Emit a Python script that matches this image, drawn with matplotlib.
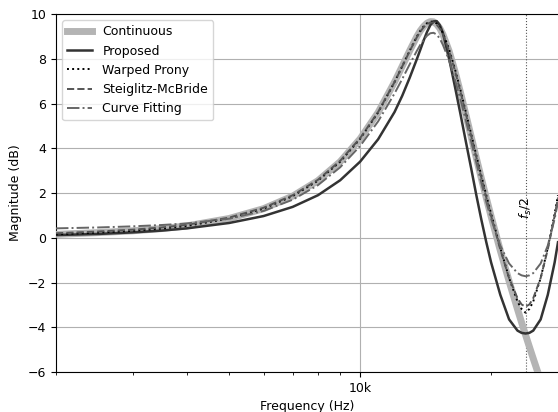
import matplotlib
matplotlib.use("Agg")
import matplotlib.pyplot as plt
from matplotlib.ticker import NullFormatter

# frequency grid (Hz) the curves were read at
freq = [2000, 2500, 3000, 3500, 4000, 5000, 6000, 7000, 8000, 9000,
        10000, 11000, 12000, 12500, 13000, 13500, 13750, 14000, 14250, 14500,
        14750, 15000, 15250, 15500, 16000, 16500, 17000, 17500, 18000, 18500,
        19000, 19500, 20000, 21000, 22000, 23000, 23500, 24000, 24500, 25000,
        26000, 27000, 28000, 28500]

continuous = [0.15, 0.23, 0.31, 0.41, 0.53, 0.86, 1.30, 1.86, 2.55, 3.40,
              4.42, 5.60, 6.96, 7.67, 8.36, 8.99, 9.25, 9.45, 9.59, 9.66,
              9.65, 9.54, 9.36, 9.09, 8.37, 7.48, 6.51, 5.50, 4.52, 3.56,
              2.65, 1.78, 0.96, -0.57, -1.94, -3.19, -3.78, -4.34, -4.88, -5.40,
              -6.39, -7.31, -8.16, -8.58]

proposed = [0.12, 0.17, 0.24, 0.32, 0.42, 0.66, 0.97, 1.38, 1.90, 2.57,
            3.40, 4.40, 5.62, 6.35, 7.15, 7.98, 8.40, 8.82, 9.20, 9.50,
            9.67, 9.68, 9.50, 9.15, 8.05, 6.80, 5.55, 4.30, 3.10, 1.90,
            0.80, -0.20, -1.10, -2.55, -3.65, -4.15, -4.25, -4.28, -4.25, -4.15,
            -3.65, -2.55, -1.10, -0.20]

warped_prony = [0.15, 0.23, 0.31, 0.41, 0.53, 0.86, 1.30, 1.86, 2.55, 3.40,
                4.42, 5.60, 6.96, 7.67, 8.36, 8.99, 9.25, 9.45, 9.59, 9.66,
                9.66, 9.57, 9.40, 9.15, 8.45, 7.58, 6.62, 5.62, 4.64, 3.68,
                2.77, 1.90, 1.08, -0.45, -1.80, -2.85, -3.18, -3.35, -3.18, -2.85,
                -1.80, -0.45, 1.08, 1.90]

steiglitz = [0.20, 0.28, 0.36, 0.46, 0.58, 0.90, 1.34, 1.90, 2.59, 3.44,
             4.45, 5.62, 6.96, 7.66, 8.34, 8.96, 9.21, 9.41, 9.55, 9.62,
             9.62, 9.52, 9.35, 9.09, 8.38, 7.50, 6.54, 5.54, 4.56, 3.60,
             2.68, 1.80, 0.98, -0.52, -1.80, -2.70, -2.98, -3.08, -2.98, -2.70,
             -1.80, -0.52, 0.98, 1.80]

curve_fitting = [0.42, 0.46, 0.51, 0.57, 0.64, 0.85, 1.20, 1.70, 2.35, 3.15,
                 4.10, 5.20, 6.45, 7.10, 7.75, 8.35, 8.62, 8.85, 9.03, 9.14,
                 9.16, 9.08, 8.90, 8.62, 7.95, 7.10, 6.20, 5.25, 4.30, 3.35,
                 2.45, 1.60, 0.85, -0.35, -1.15, -1.58, -1.68, -1.72, -1.68, -1.58,
                 -1.15, -0.35, 0.85, 1.60]

fs = 48000

plt.rcParams['font.family'] = 'DejaVu Sans'
fig = plt.figure(figsize=(5.58, 4.12), dpi=100)
ax = fig.add_axes([56 / 558, 1 - 372 / 412, 1 - 56 / 558, (372 - 14) / 412])

ax.plot(freq, continuous, color='#b4b4b4', lw=5, label='Continuous', zorder=3)
ax.plot(freq, proposed, color='#333333', lw=1.8, label='Proposed', zorder=4)
ax.plot(freq, warped_prony, color='black', lw=1.4, ls=':', label='Warped Prony', zorder=5)
ax.plot(freq, steiglitz, color='#555555', lw=1.4, ls='--', label='Steiglitz-McBride', zorder=5)
ax.plot(freq, curve_fitting, color='#666666', lw=1.4, ls='-.', label='Curve Fitting', zorder=5)

ax.axvline(fs / 2, color='#555555', lw=0.8, ls=':', zorder=2)
ax.text(fs / 2, 1.3, r'$f_s/2$', rotation=90, ha='center', va='center', fontsize=9)

ax.set_xscale('log')
ax.set_xlim(2000, 28500)
ax.set_ylim(-6, 10)
ax.set_yticks(range(-6, 11, 2))
ax.set_xticks([10000])
ax.set_xticklabels(['10k'])
ax.xaxis.set_minor_formatter(NullFormatter())
ax.grid(True, which='major', color='#b0b0b0', lw=0.8)
ax.spines['right'].set_visible(False)
ax.tick_params(labelsize=9)

ax.set_xlabel('Frequency (Hz)', fontsize=9)
ax.set_ylabel('Magnitude (dB)', fontsize=9)
ax.legend(loc='upper left', fontsize=9)

fig.savefig('out.png', dpi=100)
